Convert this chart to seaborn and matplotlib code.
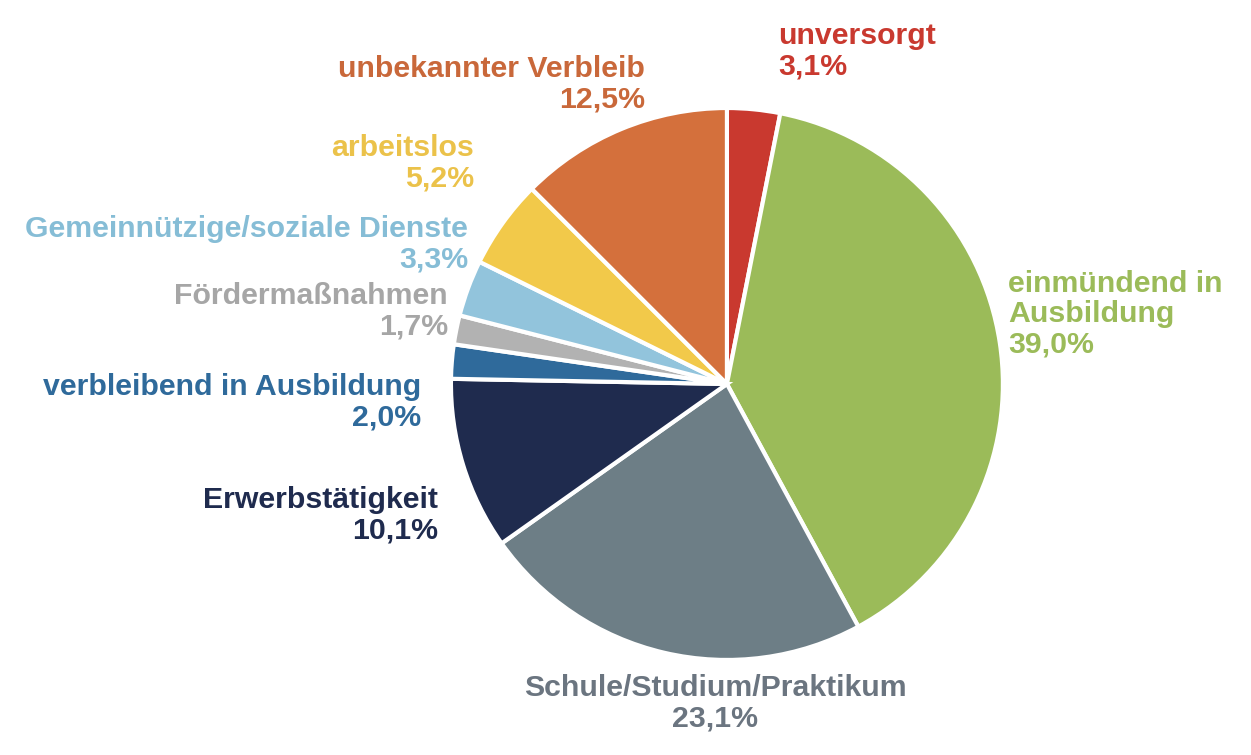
import matplotlib
matplotlib.use("Agg")
import matplotlib.pyplot as plt
import seaborn as sns

# Verbleib der Schulabgänger (Anteile in %), im Uhrzeigersinn ab 12 Uhr
categories = ["unversorgt", "einmündend in\nAusbildung", "Schule/Studium/Praktikum",
              "Erwerbstätigkeit", "verbleibend in Ausbildung", "Fördermaßnahmen",
              "Gemeinnützige/soziale Dienste", "arbeitslos", "unbekannter Verbleib"]
shares = [3.1, 39.0, 23.1, 10.1, 2.0, 1.7, 3.3, 5.2, 12.5]

wedge_colors = ["#C9392F", "#9BBB59", "#6D7E86", "#1F2B4E", "#2F6A9B",
                "#B2B2B2", "#92C4DC", "#F2C94A", "#D4703C"]
text_colors = ["#C9392F", "#9BBB59", "#6B7580", "#1F2B4E", "#2F6A9B",
               "#A6A6A6", "#86BDD6", "#EBC24A", "#C9683A"]

# label anchors (pie radius = 1) and alignment
label_pos = [(0.185, 1.205), (1.018, 0.254), (-0.043, -1.158), (-1.047, -0.476),
             (-1.109, -0.065), (-1.011, 0.263), (-0.938, 0.507), (-0.917, 0.799),
             (-0.297, 1.087)]
label_ha = ["left", "left", "center", "right", "right", "right", "right", "right", "right"]

sns.set_theme(style="white")
plt.rcParams["font.family"] = ["Liberation Sans", "DejaVu Sans"]

fig = plt.figure(figsize=(12.51, 7.55), dpi=100)
ax = fig.add_axes([0, 0, 1, 1])

palette = sns.color_palette(wedge_colors)
ax.pie(shares, colors=palette, startangle=90, counterclock=False, radius=1,
       center=(0, 0), wedgeprops=dict(edgecolor="white", linewidth=3))

for cat, val, (x, y), ha, col in zip(categories, shares, label_pos, label_ha, text_colors):
    txt = f"{cat}\n{val:.1f}%".replace(".", ",")
    ax.text(x, y, txt, ha=ha, va="center", multialignment=ha, color=col,
            fontsize=21.8, fontweight="bold", linespacing=1.1)

ax.set_aspect("equal")
ax.set_xlim(-2.634, 1.899)
ax.set_ylim(-1.344, 1.391)
ax.axis("off")

fig.savefig("out.png", dpi=100)
